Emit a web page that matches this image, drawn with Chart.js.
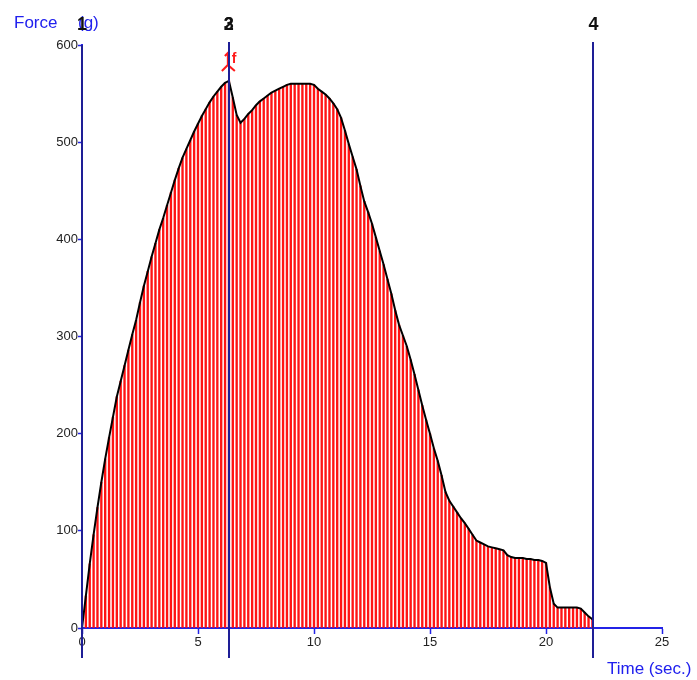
<!DOCTYPE html>
<html>
<head>
<meta charset="utf-8">
<title>Force / Time</title>
<script src="https://cdn.jsdelivr.net/npm/chart.js@4"></script>
<style>
  html, body { margin: 0; padding: 0; background: #fff; }
  canvas { display: block; }
</style>
</head>
<body>
<canvas id="force-plot" width="697" height="680"></canvas>
<script>
// Force curve, sampled every 1/6 s from t = 0
const sampleStep = 1 / 6;
const forceValues = [
    0, 33, 66, 96, 124, 150, 174, 196, 217, 238,
    254, 270, 286, 302, 317, 335, 352, 367, 382, 396,
    410, 422, 435, 448, 461, 473, 484, 493, 502, 511,
    519, 527, 534, 541, 547, 552, 557, 561, 563, 546,
    528, 520, 524, 529, 533, 538, 542, 545, 548, 551,
    553, 555, 557, 559, 560, 560, 560, 560, 560, 560,
    559, 555, 552, 549, 545, 540, 534, 525, 512, 498,
    485, 472, 455, 439, 428, 416, 402, 388, 374, 359,
    344, 327, 312, 301, 290, 276, 261, 245, 229, 214,
    200, 185, 172, 157, 140, 131, 125, 119, 113, 108,
    102, 96, 90, 88, 86, 84, 83, 82, 81, 80,
    75, 73, 72, 72, 72, 71, 71, 70, 70, 69,
    67, 42, 25, 21, 21, 21, 21, 21, 21, 20,
    16, 12, 9
];

// numbered cursor lines (times in s)
const markerTimes = [0, 6.33, 6.33, 22.0];
const markerLabels = ['1', '2', '3', '4'];

// peak flag
const flagTime = 6.33;
const flagValue = 563;
const flagLabel = 'f';

const axisColor = '#2323e6';
const cursorColor = '#1e1e96';
const labelBlue = '#2020ee';
const fontFamily = 'Arial, "Liberation Sans", sans-serif';

const points = forceValues.map((f, i) => ({ x: i * sampleStep, y: f }));

// cursor lines, their numbers, the peak flag and the axis names
const overlayPlugin = {
    id: 'overlay',
    afterDatasetsDraw(chart) {
        const ctx = chart.ctx;
        const xs = chart.scales.x;
        const ys = chart.scales.y;
        const area = chart.chartArea;

        // peak flag
        const fx = xs.getPixelForValue(flagTime);
        const fy = ys.getPixelForValue(flagValue);
        ctx.save();
        ctx.strokeStyle = '#ff1a1a';
        ctx.lineWidth = 2;
        ctx.beginPath();
        ctx.moveTo(fx - 4, fy - 25);
        ctx.lineTo(fx - 1, fy - 28);
        ctx.lineTo(fx - 1, fy - 16);
        ctx.moveTo(fx - 7, fy - 10);
        ctx.lineTo(fx - 1, fy - 16);
        ctx.lineTo(fx + 6, fy - 10);
        ctx.stroke();
        ctx.fillStyle = '#ff1a1a';
        ctx.font = 'bold 14px ' + fontFamily;
        ctx.textAlign = 'left';
        ctx.textBaseline = 'middle';
        ctx.fillText(flagLabel, fx + 3, fy - 22);
        ctx.restore();

        // cursor lines
        ctx.save();
        ctx.strokeStyle = cursorColor;
        ctx.lineWidth = 2;
        markerTimes.forEach((t, i) => {
            const x = Math.round(xs.getPixelForValue(t)) + (i === 3 ? 1 : 0);
            ctx.beginPath();
            ctx.moveTo(x, i === 0 ? area.top : area.top - 3);
            ctx.lineTo(x, area.bottom + 30);
            ctx.stroke();
        });
        ctx.restore();

        // axis names
        ctx.save();
        ctx.fillStyle = labelBlue;
        ctx.font = '17px ' + fontFamily;
        ctx.textBaseline = 'middle';
        ctx.textAlign = 'left';
        ctx.fillText('Force', 14, 23);
        ctx.fillText('(g)', area.left - 4, 23);
        ctx.fillText('Time (sec.)', area.right - 55, 669);
        ctx.restore();

        // cursor numbers
        ctx.save();
        ctx.fillStyle = '#111';
        ctx.font = 'bold 18px ' + fontFamily;
        ctx.textAlign = 'center';
        ctx.textBaseline = 'middle';
        markerTimes.forEach((t, i) => {
            ctx.fillText(markerLabels[i], xs.getPixelForValue(t) + (i === 3 ? 1 : 0), 25);
        });
        ctx.restore();
    }
};

const config = {
    type: 'bar',
    data: {
        datasets: [
            {
                type: 'line',
                data: points,
                borderColor: '#000',
                borderWidth: 2,
                pointRadius: 0,
                tension: 0,
                order: 0
            },
            {
                type: 'bar',
                data: points,
                backgroundColor: 'rgb(255, 20, 20)',
                barThickness: 1.7,
                borderWidth: 0,
                order: 1
            }
        ]
    },
    options: {
        responsive: false,
        animation: false,
        events: [],
        layout: {
            padding: { top: 45, right: 35, left: 0, bottom: 0 }
        },
        plugins: {
            legend: { display: false },
            tooltip: { enabled: false }
        },
        scales: {
            x: {
                type: 'linear',
                min: 0,
                max: 25,
                offset: false,
                grid: {
                    offset: false,
                    drawOnChartArea: false,
                    color: axisColor,
                    tickLength: 6,
                    tickWidth: 1.5
                },
                border: { color: axisColor, width: 2 },
                ticks: {
                    stepSize: 5,
                    padding: 1,
                    maxRotation: 0,
                    color: '#222',
                    font: { family: fontFamily, size: 13 }
                },
                afterFit(scale) { scale.height = 52; }
            },
            y: {
                min: 0,
                max: 600,
                grid: {
                    drawOnChartArea: false,
                    color: axisColor,
                    tickLength: 4,
                    tickWidth: 1.5
                },
                border: { color: axisColor, width: 2 },
                ticks: {
                    stepSize: 100,
                    padding: 0,
                    color: '#222',
                    font: { family: fontFamily, size: 13 }
                },
                afterFit(scale) { scale.width = 82; }
            }
        }
    },
    plugins: [overlayPlugin]
};

new Chart(document.getElementById('force-plot'), config);
</script>
</body>
</html>
